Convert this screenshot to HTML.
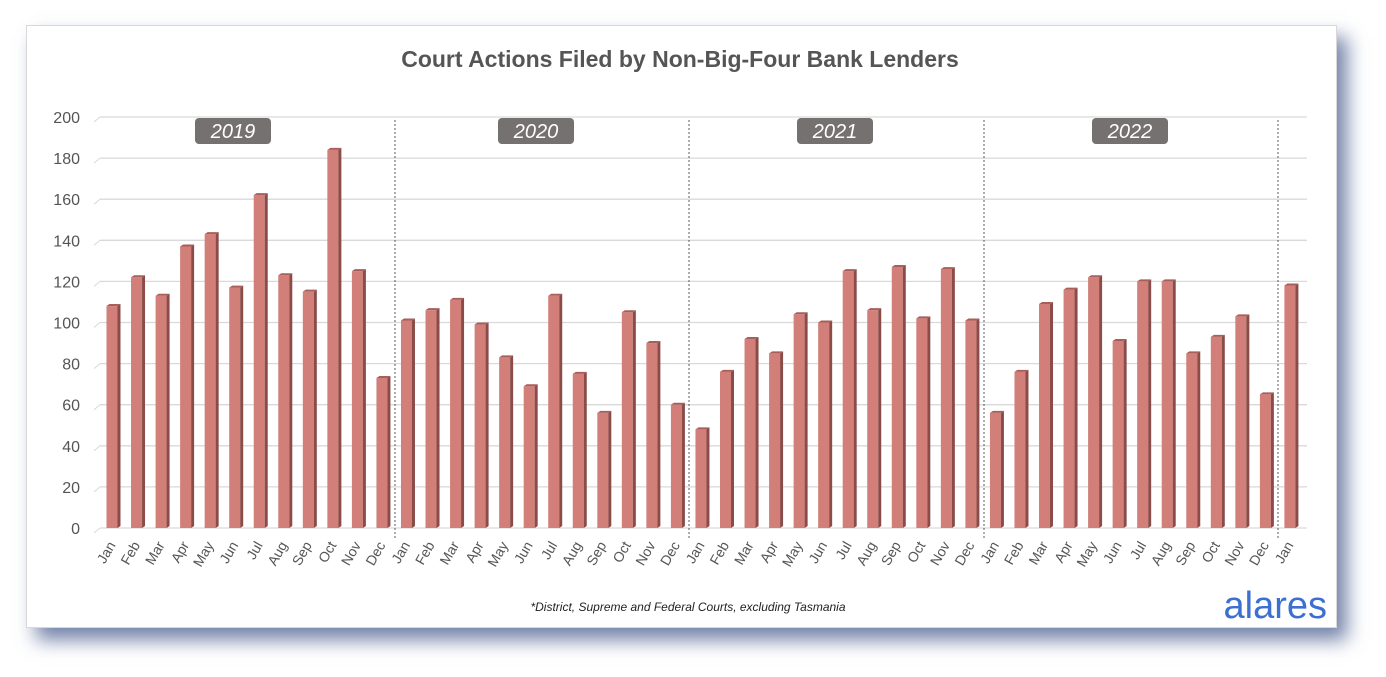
<!DOCTYPE html><html><head><style>
body{margin:0;width:1386px;height:677px;background:#fff;overflow:hidden;font-family:"Liberation Sans",sans-serif}
#card{position:absolute;left:26px;top:25px;width:1309px;height:601px;background:#fff;border:1px solid #d8d8d8;box-shadow:10px 12px 18px rgba(70,90,140,0.75)}
</style></head><body><div id="card"></div>
<svg id="s" width="1386" height="677" style="position:absolute;left:0;top:0"></svg>
<script>
const v=[108,122,113,137,143,117,162,123,115,184,125,73,101,106,111,99,83,69,113,75,56,105,90,60,48,76,92,85,104,100,125,106,127,102,126,101,56,76,109,116,122,91,120,120,85,93,103,65,118];
const m=["Jan","Feb","Mar","Apr","May","Jun","Jul","Aug","Sep","Oct","Nov","Dec"];
let h='<text x="680" y="67" text-anchor="middle" font-size="23" font-weight="bold" fill="#555">Court Actions Filed by Non-Big-Four Bank Lenders</text>';
const y0=528,k=2.055,L=100,st=24.54;
for(let t=0;t<=200;t+=20){const y=y0-t*k;h+=`<line x1="${L}" y1="${y}" x2="1307" y2="${y}" stroke="#d9d9d9" stroke-width="1.3"/><line x1="${L-6}" y1="${y+5}" x2="${L}" y2="${y}" stroke="#d9d9d9"/><text x="80" y="${y+6}" text-anchor="end" font-size="16" fill="#555">${t}</text>`;}
[395,689,984,1278].forEach(x=>h+=`<line x1="${x}" y1="120" x2="${x}" y2="540" stroke="#333" stroke-dasharray="2,2" stroke-width="0.8"/>`);
[["2019",233],["2020",536],["2021",835],["2022",1130]].forEach(a=>h+=`<rect x="${a[1]-38}" y="118" width="76" height="26" rx="4" fill="#767171"/><text x="${a[1]}" y="138" text-anchor="middle" font-size="20" font-style="italic" fill="#fff">${a[0]}</text>`);
v.forEach((d,i)=>{const c=112+st*i,x=c-5.5,y=y0-d*k;
h+=`<rect x="${x}" y="${y}" width="11" height="${d*k}" fill="#d27e79"/><polygon points="${x+11},${y} ${x+14},${y-2} ${x+14},${y0-2} ${x+11},${y0}" fill="#8b4c49"/><polygon points="${x},${y} ${x+3},${y-2} ${x+14},${y-2} ${x+11},${y}" fill="#a85e5a"/>`;
h+=`<text transform="translate(${c+4},545) rotate(-60)" text-anchor="end" font-size="14" fill="#555">${m[i%12]}</text>`;});
h+='<text x="688" y="611" text-anchor="middle" font-size="12" font-style="italic" fill="#222">*District, Supreme and Federal Courts, excluding Tasmania</text>';
h+='<text x="1327" y="618" text-anchor="end" font-size="38" fill="#3c6fd0">alares</text>';
document.getElementById('s').innerHTML=h;
</script></body></html>
